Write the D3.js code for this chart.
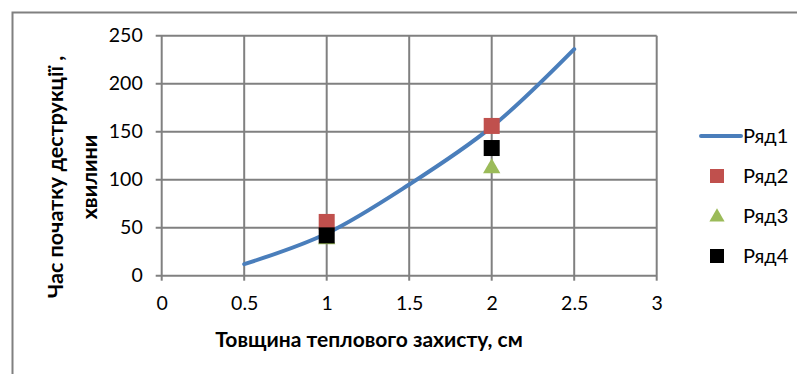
<!DOCTYPE html>
<html><head><meta charset="utf-8">
<script src="https://cdn.jsdelivr.net/npm/d3@7"></script>
<style>
html,body{margin:0;padding:0;background:#fff;}
text{font-family:Lato,"Open Sans",sans-serif;}
</style></head>
<body>
<svg id="c" width="797" height="374"></svg>
<script>
const xTicks = [0, 0.5, 1, 1.5, 2, 2.5, 3];
const yTicks = [0, 50, 100, 150, 200, 250];
const s1x = [0.5, 1, 1.5, 2, 2.5];
const s1y = [12, 44, 95, 155, 236];
const s2x = [1, 2];
const s2y = [56, 156];
const s3x = [1, 2];
const s3y = [39, 113];
const s4x = [1, 2];
const s4y = [42, 133];
const seriesNames = ["Ряд1", "Ряд2", "Ряд3", "Ряд4"];
const seriesColors = ["#4A7EBB", "#C0504D", "#9BBB59", "#000000"];
const xTitle = "Товщина теплового захисту, см";
const yTitle1 = "Час початку деструкції ,";
const yTitle2 = "хвилини";

const svg = d3.select("#c");
const grid = "#808080";
// outer frame
svg.append("path").attr("d","M12.5,374 L12.5,12.5 L797,12.5").attr("fill","none").attr("stroke",grid).attr("stroke-width",2);

const x = d3.scaleLinear().domain([0,3]).range([161.7,656.7]);
const y = d3.scaleLinear().domain([0,250]).range([275.7,35.7]);

const g = svg.append("g");
g.selectAll(".vg").data(xTicks).join("line")
  .attr("x1",d=>x(d)).attr("x2",d=>x(d)).attr("y1",y(250)).attr("y2",y(0)+5)
  .attr("stroke",grid).attr("stroke-width",2);
g.selectAll(".hg").data(yTicks).join("line")
  .attr("x1",x(0)-6).attr("x2",x(3)).attr("y1",d=>y(d)).attr("y2",d=>y(d))
  .attr("stroke",grid).attr("stroke-width",2);

const xa = svg.append("g").attr("transform",`translate(0,${y(0)})`)
  .call(d3.axisBottom(x).tickValues(xTicks).tickFormat(d3.format("")).tickSize(0).tickPadding(20));
const ya = svg.append("g").attr("transform",`translate(${x(0)},0)`)
  .call(d3.axisLeft(y).tickValues(yTicks).tickSize(0).tickPadding(19));
[xa,ya].forEach(a=>{a.select(".domain").remove();
  a.selectAll("text").attr("font-family","Lato,'Open Sans',sans-serif").attr("font-size",19.5).attr("fill","#000");});

const line = d3.line().x(d=>x(d[0])).y(d=>y(d[1])).curve(d3.curveCatmullRom.alpha(0.5));
svg.append("path").datum(s1x.map((v,i)=>[v,s1y[i]])).attr("d",line)
  .attr("fill","none").attr("stroke",seriesColors[0]).attr("stroke-width",4).attr("stroke-linecap","round");

const sq = 16;
function squares(xs, ys, col){
  svg.append("g").selectAll("rect").data(xs.map((v,i)=>[v,ys[i]])).join("rect")
    .attr("x",d=>x(d[0])-sq/2).attr("y",d=>y(d[1])-sq/2).attr("width",sq).attr("height",sq)
    .attr("fill",col);
}
squares(s2x,s2y,seriesColors[1]);
const tri = d3.symbol().type(d3.symbolTriangle).size(130);
svg.append("g").selectAll("path").data(s3x.map((v,i)=>[v,s3y[i]])).join("path")
  .attr("d",tri).attr("transform",d=>`translate(${x(d[0])},${y(d[1])+1})`).attr("fill",seriesColors[2]);
squares(s4x,s4y,seriesColors[3]);

svg.append("text").attr("x",369).attr("y",347).attr("text-anchor","middle")
  .attr("font-size",21).attr("font-weight","bold").text(xTitle);
svg.append("text").attr("transform","translate(63,177) rotate(-90)").attr("text-anchor","middle")
  .attr("font-size",21.5).attr("font-weight","bold").text(yTitle1);
svg.append("text").attr("transform","translate(97,177) rotate(-90)").attr("text-anchor","middle")
  .attr("font-size",21.5).attr("font-weight","bold").text(yTitle2);

const lg = svg.append("g");
const ly = [136, 176, 216, 256];
lg.append("line").attr("x1",701).attr("x2",741).attr("y1",ly[0]).attr("y2",ly[0])
  .attr("stroke",seriesColors[0]).attr("stroke-width",4).attr("stroke-linecap","round");
lg.append("rect").attr("x",710).attr("y",ly[1]-7).attr("width",14).attr("height",14).attr("fill",seriesColors[1]);
lg.append("path").attr("d",d3.symbol().type(d3.symbolTriangle).size(100)).attr("transform",`translate(717,${ly[2]+1})`).attr("fill",seriesColors[2]);
lg.append("rect").attr("x",710).attr("y",ly[3]-7).attr("width",14).attr("height",14).attr("fill",seriesColors[3]);
lg.selectAll("text").data(seriesNames).join("text")
  .attr("x",743).attr("y",(d,i)=>ly[i]+7).attr("font-size",20).text(d=>d);
</script>
</body></html>
